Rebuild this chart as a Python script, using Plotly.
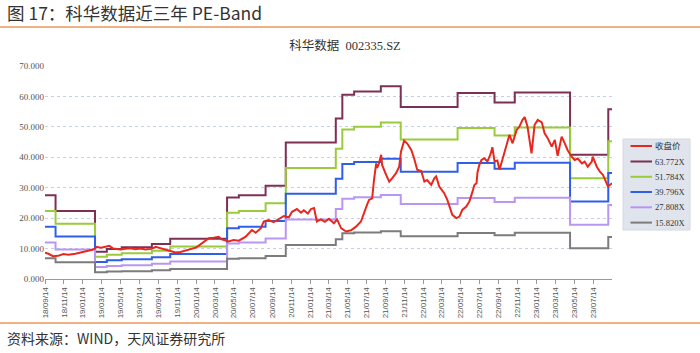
import plotly.graph_objects as go

# ---------------- data ----------------
tick_dates = ["2018-09-14", "2018-11-14", "2019-01-14", "2019-03-14", "2019-05-14", "2019-07-14",
              "2019-09-14", "2019-11-14", "2020-01-14", "2020-03-14", "2020-05-14", "2020-07-14",
              "2020-09-14", "2020-11-14", "2021-01-14", "2021-03-14", "2021-05-14", "2021-07-14",
              "2021-09-14", "2021-11-14", "2022-01-14", "2022-03-14", "2022-05-14", "2022-07-14",
              "2022-09-14", "2022-11-14", "2023-01-14", "2023-03-14", "2023-05-14", "2023-07-14"]
tick_labels = ["18/09/14", "18/11/14", "19/01/14", "19/03/14", "19/05/14", "19/07/14",
               "19/09/14", "19/11/14", "20/01/14", "20/03/14", "20/05/14", "20/07/14",
               "20/09/14", "20/11/14", "21/01/14", "21/03/14", "21/05/14", "21/07/14",
               "21/09/14", "21/11/14", "22/01/14", "22/03/14", "22/05/14", "22/07/14",
               "22/09/14", "22/11/14", "23/01/14", "23/03/14", "23/05/14", "23/07/14"]
y_ticks = [0, 10, 20, 30, 40, 50, 60, 70]
y_tick_labels = ["0.000", "10.000", "20.000", "30.000", "40.000", "50.000", "60.000", "70.000"]

# EPS (TTM) step series used for the PE bands
band_dates = ["2018-09-14", "2018-10-18", "2019-02-22", "2019-04-01", "2019-05-19", "2019-08-24",
              "2019-10-22", "2020-04-22", "2020-05-30", "2020-08-24", "2020-10-28", "2021-04-07",
              "2021-04-28", "2021-06-05", "2021-08-30", "2021-11-02", "2022-05-04", "2022-08-31",
              "2022-11-04", "2023-05-01", "2023-09-01", "2023-09-13"]
eps = [0.431, 0.350, 0.141, 0.154, 0.163, 0.180,
       0.207, 0.420, 0.431, 0.480, 0.704, 0.827,
       0.949, 0.966, 0.993, 0.886, 0.958, 0.910,
       0.961, 0.640, 0.875, 0.875]

band_multiples = [63.772, 51.784, 39.796, 27.808, 15.820]
band_names = ["63.772X", "51.784X", "39.796X", "27.808X", "15.820X"]
band_colors = ["#7e2f55", "#9acb3a", "#2f5fe8", "#b996f2", "#7c7c7c"]

close_dates = ["2018-09-14", "2018-09-25", "2018-10-10", "2018-10-26", "2018-11-12", "2018-11-28",
               "2018-12-21", "2019-01-09", "2019-01-31", "2019-02-13", "2019-02-23", "2019-02-26",
               "2019-03-14", "2019-03-27", "2019-04-09", "2019-04-22", "2019-05-02", "2019-05-15",
               "2019-05-31", "2019-06-16", "2019-07-02", "2019-07-18", "2019-08-03", "2019-08-23",
               "2019-09-05", "2019-09-21", "2019-10-07", "2019-10-23", "2019-11-08", "2019-11-24",
               "2019-12-10", "2019-12-26", "2020-01-12", "2020-01-21", "2020-01-31", "2020-02-13",
               "2020-02-23", "2020-03-10", "2020-03-26", "2020-04-05", "2020-04-18", "2020-04-27",
               "2020-05-13", "2020-05-30", "2020-06-21", "2020-07-11", "2020-07-23", "2020-08-09",
               "2020-08-18", "2020-09-03", "2020-09-19", "2020-10-06", "2020-10-22", "2020-11-07",
               "2020-11-17", "2020-12-03", "2020-12-16", "2020-12-25", "2021-01-07", "2021-01-17",
               "2021-01-27", "2021-02-05", "2021-02-18", "2021-03-03", "2021-03-16", "2021-04-01",
               "2021-04-11", "2021-04-24", "2021-05-10", "2021-05-26", "2021-06-11", "2021-06-27",
               "2021-07-07", "2021-07-17", "2021-07-23", "2021-08-02", "2021-08-08", "2021-08-15",
               "2021-08-18", "2021-08-24", "2021-08-31", "2021-09-03", "2021-09-16", "2021-09-26",
               "2021-10-05", "2021-10-18", "2021-10-28", "2021-11-03", "2021-11-13", "2021-11-23",
               "2021-12-06", "2021-12-15", "2021-12-25", "2022-01-07", "2022-01-17", "2022-01-26",
               "2022-02-08", "2022-02-18", "2022-02-24", "2022-03-06", "2022-03-22", "2022-04-01",
               "2022-04-17", "2022-04-30", "2022-05-10", "2022-05-19", "2022-06-01", "2022-06-11",
               "2022-06-21", "2022-06-27", "2022-07-04", "2022-07-07", "2022-07-13", "2022-07-20",
               "2022-07-29", "2022-08-08", "2022-08-18", "2022-08-24", "2022-08-31", "2022-09-09",
               "2022-09-16", "2022-09-26", "2022-10-09", "2022-10-18", "2022-10-28", "2022-11-10",
               "2022-11-19", "2022-11-29", "2022-12-06", "2022-12-15", "2022-12-28", "2023-01-07",
               "2023-01-17", "2023-01-30", "2023-02-08", "2023-02-18", "2023-03-03", "2023-03-13",
               "2023-03-22", "2023-04-04", "2023-04-14", "2023-04-23", "2023-05-06", "2023-05-16",
               "2023-05-26", "2023-06-08", "2023-06-17", "2023-06-27", "2023-07-10", "2023-07-13",
               "2023-07-26", "2023-08-05", "2023-08-15", "2023-08-25", "2023-08-31", "2023-09-13"]
close_values = [8.6, 8.3, 7.5, 7.6, 8.2, 8.0,
                8.3, 8.7, 9.1, 9.6, 10.0, 10.6,
                10.3, 10.6, 10.9, 10.0, 9.9, 9.7,
                9.9, 10.1, 9.8, 10.0, 9.7, 9.9,
                10.6, 10.1, 9.6, 9.2, 8.7, 8.9,
                9.4, 9.8, 10.3, 10.9, 11.7, 12.8,
                13.4, 13.6, 13.9, 13.0, 12.5, 12.3,
                12.8, 12.6, 13.9, 16.1, 15.2, 16.7,
                18.9, 19.4, 18.7, 19.6, 20.7, 20.3,
                22.1, 23.0, 21.8, 22.6, 21.5, 23.0,
                23.3, 18.9, 19.6, 18.8, 19.8, 18.3,
                19.6, 16.7, 15.6, 16.0, 17.2, 18.9,
                22.1, 24.5, 26.0, 26.5, 32.6, 38.0,
                36.5, 38.0, 40.8, 37.5, 34.2, 32.0,
                33.1, 34.8, 36.9, 41.9, 45.5, 44.5,
                42.4, 39.7, 35.9, 35.5, 32.0, 32.5,
                30.9, 33.1, 33.7, 30.4, 28.2, 26.0,
                21.1, 20.0, 20.5, 22.7, 23.8, 25.5,
                28.7, 30.9, 31.5, 35.0, 37.5, 39.1,
                39.7, 38.6, 41.0, 43.3, 38.6, 38.9,
                35.9, 39.7, 44.1, 47.4, 44.6, 49.0,
                50.1, 52.3, 53.2, 50.1, 41.3, 50.7,
                52.3, 51.5, 47.9, 46.3, 43.5, 45.7,
                40.5, 46.8, 44.6, 42.4, 40.2, 39.1,
                39.6, 38.0, 38.6, 36.9, 38.6, 40.2,
                36.9, 35.3, 34.2, 32.0, 30.4, 31.5]
close_name = "收盘价"
close_color = "#e8281e"

# ---------------- figure ----------------
fig = go.Figure()
for name, mult, color in zip(band_names, band_multiples, band_colors):
    fig.add_trace(go.Scatter(
        x=band_dates, y=[e * mult for e in eps], mode="lines", name=name,
        line=dict(color=color, width=2, shape="hv"), showlegend=False))
fig.add_trace(go.Scatter(
    x=close_dates, y=close_values, mode="lines", name=close_name,
    line=dict(color=close_color, width=2), showlegend=False))

W, H = 700, 353
L, R, T, B = 45, 88, 66, 74
pw, ph = W - L - R, H - T - B


def px(x):
    return (x - L) / pw


def py(y):
    return (H - B - y) / ph


shapes = [
    dict(type="line", xref="paper", yref="paper", x0=px(0), x1=px(700), y0=py(27), y1=py(27),
         line=dict(color="#f2b183", width=2)),
    dict(type="line", xref="paper", yref="paper", x0=px(0), x1=px(700), y0=py(323), y1=py(323),
         line=dict(color="#f2b183", width=2)),
    dict(type="rect", xref="paper", yref="paper", x0=px(623), x1=px(690), y0=py(139), y1=py(230),
         fillcolor="#e0e4ec", line=dict(color="#d4d8e0", width=1), layer="above"),
]
annotations = [
    dict(text="图 17：科华数据近三年 PE-Band", xref="paper", yref="paper", x=px(5), y=py(13),
         xanchor="left", yanchor="middle", showarrow=False,
         font=dict(family="Noto Sans CJK SC", size=17.5, color="#333333")),
    dict(text="资料来源：WIND，天风证券研究所", xref="paper", yref="paper", x=px(5), y=py(338),
         xanchor="left", yanchor="middle", showarrow=False,
         font=dict(family="Noto Sans CJK SC", size=14, color="#333333")),
]

legend_names = [close_name] + band_names
legend_colors = [close_color] + band_colors
row_y = [146, 161.5, 176.8, 192, 207.3, 222.6]
for nm, col, yy in zip(legend_names, legend_colors, row_y):
    shapes.append(dict(type="line", xref="paper", yref="paper", x0=px(630.5), x1=px(652),
                       y0=py(yy), y1=py(yy), line=dict(color=col, width=2), layer="above"))
    annotations.append(dict(text=nm, xref="paper", yref="paper", x=px(652.5), y=py(yy),
                            xanchor="left", yanchor="middle", showarrow=False,
                            font=dict(family="Liberation Serif, Noto Sans CJK SC", size=8.5,
                                      color="#333333")))

fig.update_layout(
    width=W, height=H,
    margin=dict(l=L, r=R, t=T, b=B),
    paper_bgcolor="white", plot_bgcolor="white",
    title=dict(text="科华数据  002335.SZ", xref="container", yref="container",
               x=345 / W, y=1 - 46 / H, xanchor="center", yanchor="middle",
               font=dict(family="Liberation Serif, Noto Sans CJK SC", size=12.5, color="#333333")),
    shapes=shapes, annotations=annotations,
    xaxis=dict(type="date", range=["2018-09-14", "2023-09-13"], tickvals=tick_dates,
               ticktext=tick_labels, tickangle=-90,
               tickfont=dict(family="Liberation Sans", size=8, color="#555555"),
               showline=True, linecolor="#999999", linewidth=1,
               ticks="outside", ticklen=4, tickcolor="#999999",
               showgrid=False, zeroline=False),
    yaxis=dict(range=[0, 70], tickvals=y_ticks, ticktext=y_tick_labels,
               tickfont=dict(family="Liberation Serif", size=9, color="#555555"),
               showgrid=True, gridcolor="#c6cfe4", griddash="dot", gridwidth=1,
               zeroline=False, showline=False, ticks=""),
)

fig.write_html("out.html")
